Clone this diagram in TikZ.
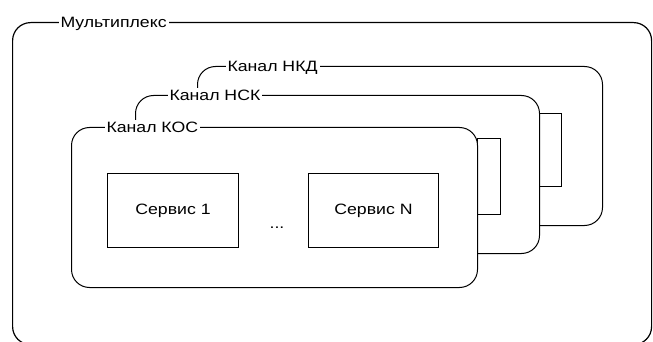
\documentclass[tikz,border=0pt]{standalone}
\usepackage{fontspec}
\setmainfont[FakeStretch=1.18]{Liberation Sans}
\begin{document}
\begin{tikzpicture}[x=1pt,y=-1pt,line width=1pt,
  chan/.style={draw,rounded corners=18pt,fill=white,anchor=north west,inner sep=0pt},
  lab/.style={fill=white,inner sep=2pt,anchor=base west,font=\fontsize{15}{18}\selectfont},
  svc/.style={draw,fill=white,anchor=north west,inner sep=0pt,font=\fontsize{15}{18}\selectfont},
  tabbox/.style={draw,fill=white,anchor=north west,inner sep=0pt,line width=0.9pt}]
\useasboundingbox (0,0) rectangle (653,342);
\clip (0,0) rectangle (653,342);
% outer multiplex
\node[chan,line width=1.2pt,minimum width=639,minimum height=322] (mux) at (12,22) {};
\node[lab] (muxlab) at (58,27.5) {Мультиплекс};
% channel НКД
\node[chan,minimum width=405,minimum height=159] (nkd) at (197,66) {};
\node[lab] (nkdlab) at (225,71.5) {Канал НКД};
\node[tabbox,minimum width=22,minimum height=73] (tab2) at (539,113) {};
% channel НСК
\node[chan,minimum width=404,minimum height=158] (nsk) at (135,95) {};
\node[lab] (nsklab) at (167,100.5) {Канал НСК};
\node[tabbox,minimum width=23,minimum height=76] (tab1) at (477,138) {};
% channel КОС
\node[chan,minimum width=406,minimum height=160] (kos) at (71,127) {};
\node[lab] (koslab) at (104,132.5) {Канал КОС};
% services
\node[svc,minimum width=131,minimum height=74] (s1) at (107,173) {Сервис 1};
\node[svc,minimum width=130,minimum height=74] (sn) at (308,173) {Сервис N};
\node[font=\fontsize{15}{18}\selectfont,inner sep=0pt,anchor=base] (dots) at (277,228) {...};
\end{tikzpicture}
\end{document}
